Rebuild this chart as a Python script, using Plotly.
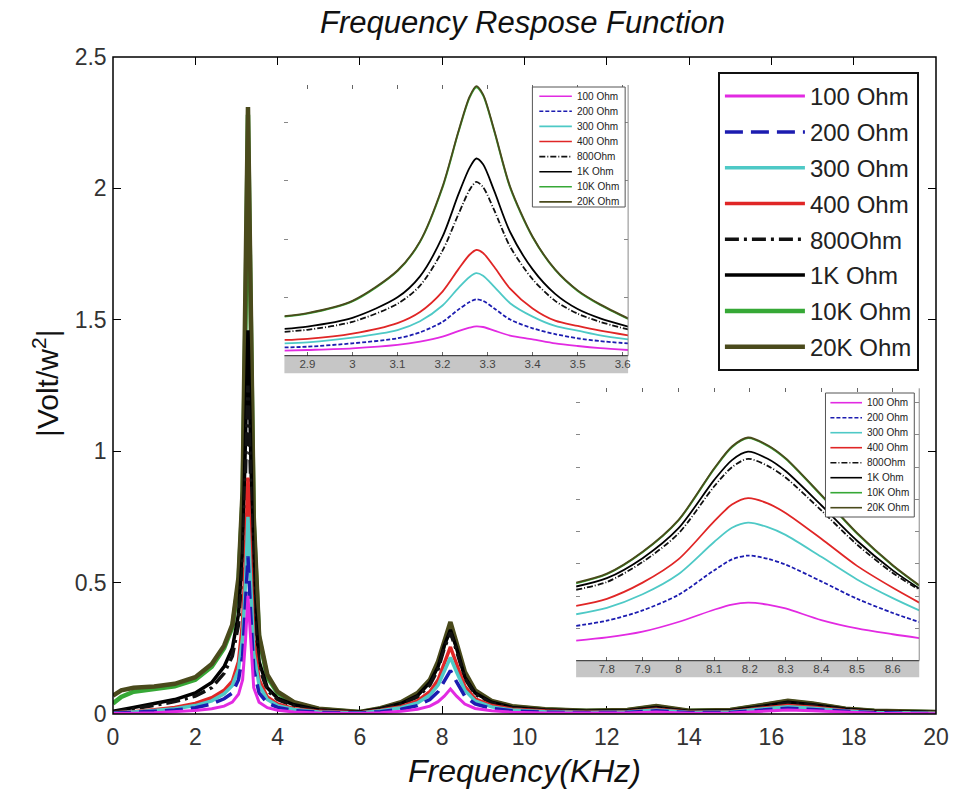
import plotly.graph_objects as go

W, H = 961, 791
ML, MR, MT, MB = 113, 14, 57, 77          # plot area spans x 113..947, y 57..714
PW, PH = W - ML - MR, H - MT - MB
FONT = "Liberation Sans, Arial, Helvetica, sans-serif"

# ---------------- series definitions ----------------
series_names = ["100 Ohm", "200 Ohm", "300 Ohm", "400 Ohm", "800Ohm", "1K Ohm", "10K Ohm", "20K Ohm"]
series_colors = ["#e22ae2", "#1c1cb0", "#4ec9c6", "#e02626", "#111111", "#000000", "#36a836", "#4a4a1c"]
main_dash = ["solid", "18px,8px", "solid", "solid", "14px,5px,3px,5px", "solid", "solid", "solid"]
small_dash = ["solid", "4px,2px", "solid", "solid", "6px,2px,1px,2px", "solid", "solid", "solid"]
main_width = [3, 3.5, 3.5, 3.5, 3.5, 3.5, 4.5, 4.5]
z_rank = [8, 7, 6, 5, 4, 3, 1, 2]

# ---------------- full-band response ----------------
freq_main = [0.0, 0.2, 0.5, 1.0, 1.5, 2.0, 2.4, 2.7, 2.9, 3.05,
             3.15, 3.22, 3.28, 3.34, 3.42, 3.55, 3.75, 4.0, 4.4, 5.0,
             5.5, 6.0, 6.5, 7.0, 7.4, 7.7, 7.9, 8.05, 8.2, 8.35,
             8.55, 8.8, 9.2, 9.7, 10.5, 11.5, 12.5, 13.2, 14.0, 15.0,
             15.8, 16.4, 17.0, 17.8, 18.5, 19.3, 20.0]

main_100 = [0.002, 0.002, 0.003, 0.005, 0.008, 0.013, 0.02, 0.03, 0.045, 0.075,
            0.13, 0.28, 0.45, 0.28, 0.1, 0.045, 0.024, 0.014, 0.008, 0.004,
            0.003, 0.002, 0.005, 0.01, 0.018, 0.03, 0.047, 0.068, 0.095, 0.068,
            0.038, 0.021, 0.012, 0.007, 0.004, 0.003, 0.004, 0.008, 0.003, 0.004,
            0.01, 0.015, 0.012, 0.006, 0.003, 0.002, 0.001]
main_200 = [0.003, 0.004, 0.006, 0.01, 0.015, 0.024, 0.038, 0.058, 0.08, 0.13,
            0.22, 0.4, 0.6, 0.4, 0.17, 0.08, 0.042, 0.025, 0.013, 0.006,
            0.004, 0.003, 0.009, 0.018, 0.032, 0.055, 0.085, 0.125, 0.165, 0.122,
            0.068, 0.038, 0.021, 0.012, 0.007, 0.005, 0.006, 0.012, 0.005, 0.006,
            0.015, 0.022, 0.017, 0.009, 0.005, 0.003, 0.002]
main_300 = [0.004, 0.005, 0.008, 0.013, 0.02, 0.032, 0.05, 0.077, 0.108, 0.17,
            0.29, 0.5, 0.75, 0.52, 0.23, 0.11, 0.055, 0.032, 0.017, 0.008,
            0.006, 0.004, 0.012, 0.024, 0.042, 0.072, 0.11, 0.16, 0.215, 0.16,
            0.09, 0.05, 0.027, 0.015, 0.009, 0.006, 0.008, 0.015, 0.006, 0.008,
            0.019, 0.028, 0.022, 0.011, 0.006, 0.004, 0.003]
main_400 = [0.005, 0.006, 0.009, 0.016, 0.025, 0.04, 0.062, 0.09, 0.125, 0.2,
            0.35, 0.6, 0.9, 0.62, 0.28, 0.13, 0.065, 0.038, 0.02, 0.01,
            0.007, 0.005, 0.014, 0.028, 0.05, 0.085, 0.13, 0.19, 0.255, 0.19,
            0.105, 0.058, 0.032, 0.018, 0.011, 0.007, 0.009, 0.018, 0.007, 0.009,
            0.022, 0.032, 0.026, 0.013, 0.007, 0.005, 0.004]
main_800 = [0.008, 0.012, 0.02, 0.033, 0.047, 0.068, 0.1, 0.155, 0.22, 0.34,
            0.56, 0.92, 1.25, 0.92, 0.4, 0.18, 0.09, 0.055, 0.03, 0.013,
            0.009, 0.006, 0.018, 0.037, 0.065, 0.11, 0.17, 0.25, 0.31, 0.24,
            0.135, 0.075, 0.042, 0.023, 0.014, 0.009, 0.011, 0.023, 0.009, 0.011,
            0.028, 0.042, 0.033, 0.017, 0.009, 0.007, 0.005]
main_1k = [0.01, 0.015, 0.025, 0.04, 0.055, 0.08, 0.12, 0.18, 0.25, 0.38,
           0.62, 1.05, 1.46, 1.05, 0.45, 0.2, 0.1, 0.06, 0.035, 0.015,
           0.01, 0.007, 0.02, 0.04, 0.07, 0.12, 0.18, 0.26, 0.32, 0.25,
           0.14, 0.08, 0.045, 0.025, 0.015, 0.01, 0.012, 0.025, 0.01, 0.012,
           0.03, 0.045, 0.035, 0.018, 0.01, 0.008, 0.006]
main_10k = [0.04, 0.065, 0.085, 0.095, 0.105, 0.13, 0.18, 0.25, 0.33, 0.50,
            0.82, 1.5, 2.28, 1.6, 0.72, 0.29, 0.14, 0.08, 0.042, 0.018,
            0.011, 0.007, 0.02, 0.042, 0.076, 0.125, 0.19, 0.27, 0.34, 0.26,
            0.15, 0.085, 0.047, 0.028, 0.017, 0.011, 0.014, 0.028, 0.011, 0.014,
            0.033, 0.048, 0.038, 0.019, 0.011, 0.009, 0.007]
main_20k = [0.07, 0.09, 0.10, 0.105, 0.115, 0.14, 0.19, 0.26, 0.34, 0.52,
            0.85, 1.55, 2.31, 1.65, 0.75, 0.30, 0.15, 0.085, 0.045, 0.02,
            0.012, 0.008, 0.022, 0.045, 0.08, 0.13, 0.2, 0.28, 0.35, 0.27,
            0.16, 0.09, 0.05, 0.03, 0.018, 0.012, 0.015, 0.03, 0.012, 0.015,
            0.035, 0.05, 0.04, 0.02, 0.012, 0.01, 0.008]
main_values = [main_100, main_200, main_300, main_400, main_800, main_1k, main_10k, main_20k]

# ---------------- zoom on the first mode (~3.28 kHz) ----------------
freq_in1 = [2.849, 2.9, 3.0, 3.1, 3.15, 3.2, 3.235, 3.26, 3.275, 3.29,
            3.315, 3.35, 3.4, 3.45, 3.5, 3.55, 3.612]
in1_100 = [0.043, 0.049, 0.063, 0.092, 0.12, 0.163, 0.21, 0.24, 0.252, 0.246,
           0.215, 0.172, 0.14, 0.105, 0.083, 0.065, 0.049]
in1_200 = [0.071, 0.077, 0.106, 0.149, 0.20, 0.29, 0.395, 0.46, 0.484, 0.47,
           0.405, 0.31, 0.235, 0.185, 0.149, 0.125, 0.105]
in1_300 = [0.105, 0.115, 0.155, 0.22, 0.295, 0.43, 0.58, 0.675, 0.707, 0.685,
           0.59, 0.45, 0.335, 0.255, 0.215, 0.175, 0.14]
in1_400 = [0.135, 0.145, 0.19, 0.28, 0.375, 0.55, 0.74, 0.865, 0.906, 0.88,
           0.76, 0.575, 0.405, 0.30, 0.255, 0.215, 0.175]
in1_800 = [0.205, 0.222, 0.29, 0.445, 0.60, 0.90, 1.21, 1.42, 1.49, 1.445,
           1.245, 0.935, 0.655, 0.47, 0.36, 0.29, 0.225]
in1_1k = [0.23, 0.25, 0.325, 0.50, 0.68, 1.02, 1.38, 1.61, 1.69, 1.64,
          1.41, 1.06, 0.74, 0.53, 0.40, 0.32, 0.25]
in1_10k = [0.335, 0.36, 0.465, 0.725, 0.975, 1.44, 1.91, 2.21, 2.30, 2.23,
           1.92, 1.44, 1.015, 0.735, 0.555, 0.435, 0.315]
in1_20k = [0.34, 0.365, 0.47, 0.73, 0.98, 1.45, 1.92, 2.22, 2.31, 2.24,
           1.93, 1.45, 1.02, 0.74, 0.56, 0.44, 0.32]
in1_values = [in1_100, in1_200, in1_300, in1_400, in1_800, in1_1k, in1_10k, in1_20k]

# ---------------- zoom on the second mode (~8.2 kHz) ----------------
freq_in2 = [7.714, 7.8, 7.9, 8.0, 8.1, 8.15, 8.195, 8.25, 8.3, 8.4, 8.5, 8.6, 8.674]
in2_100 = [0.031, 0.036, 0.045, 0.060, 0.079, 0.087, 0.090, 0.087, 0.081, 0.063, 0.050, 0.041, 0.035]
in2_200 = [0.054, 0.062, 0.078, 0.102, 0.140, 0.157, 0.163, 0.158, 0.149, 0.123, 0.096, 0.074, 0.060]
in2_300 = [0.072, 0.082, 0.103, 0.134, 0.184, 0.206, 0.214, 0.207, 0.195, 0.161, 0.126, 0.097, 0.078]
in2_400 = [0.085, 0.096, 0.121, 0.157, 0.216, 0.242, 0.252, 0.244, 0.229, 0.189, 0.147, 0.113, 0.090]
in2_800 = [0.110, 0.122, 0.153, 0.197, 0.270, 0.300, 0.313, 0.302, 0.284, 0.233, 0.180, 0.136, 0.110]
in2_1k = [0.115, 0.128, 0.159, 0.205, 0.280, 0.311, 0.324, 0.313, 0.294, 0.241, 0.186, 0.140, 0.112]
in2_10k = [0.120, 0.134, 0.168, 0.217, 0.297, 0.331, 0.345, 0.333, 0.313, 0.256, 0.197, 0.147, 0.116]
in2_20k = [0.121, 0.135, 0.169, 0.218, 0.298, 0.332, 0.346, 0.334, 0.314, 0.257, 0.198, 0.148, 0.117]
in2_values = [in2_100, in2_200, in2_300, in2_400, in2_800, in2_1k, in2_10k, in2_20k]

# axis extents
main_xrange, main_yrange = [0, 20], [0, 2.5]
in1_xrange, in1_yrange = [2.849, 3.612], [0, 2.32]
in2_xrange, in2_yrange = [7.714, 8.674], [0, 0.4223]


def px_x(p):
    """page pixel column -> paper x (plot-area relative)"""
    return (p - ML) / PW


def px_y(p):
    """page pixel row -> paper y (plot-area relative)"""
    return (H - MB - p) / PH


fig = go.Figure()

# main plot
for i, name in enumerate(series_names):
    fig.add_trace(go.Scatter(
        x=freq_main, y=main_values[i], mode="lines", name=name,
        legendgroup=name, zorder=z_rank[i],
        line=dict(color=series_colors[i], width=main_width[i], dash=main_dash[i]),
        xaxis="x", yaxis="y"))

# zoomed views
for vals, ax, fx in ((in1_values, "2", freq_in1), (in2_values, "3", freq_in2)):
    for i, name in enumerate(series_names):
        fig.add_trace(go.Scatter(
            x=fx, y=vals[i], mode="lines", name=name, showlegend=False,
            zorder=z_rank[i], line_shape="spline", line_smoothing=0.8,
            line=dict(color=series_colors[i], width=1.8, dash=small_dash[i]),
            xaxis="x" + ax, yaxis="y" + ax))

tickfont_main = dict(family=FONT, size=23, color="#333333")
tickfont_small = dict(family=FONT, size=11.5, color="#444444")

layout = dict(
    width=W, height=H,
    margin=dict(l=ML, r=MR, t=MT, b=MB),
    paper_bgcolor="white", plot_bgcolor="rgba(0,0,0,0)",
    xaxis=dict(domain=[0, 1], range=main_xrange, dtick=2, tick0=0,
               showline=True, linecolor="black", linewidth=1.5, mirror="ticks",
               ticks="inside", ticklen=8, tickwidth=1, tickcolor="black",
               ticklabelstandoff=2,
               showgrid=False, zeroline=False, tickfont=tickfont_main),
    yaxis=dict(domain=[0, 1], range=main_yrange, dtick=0.5, tick0=0,
               showline=True, linecolor="black", linewidth=1.5, mirror="ticks",
               ticks="inside", ticklen=8, tickwidth=1, tickcolor="black",
               showgrid=False, zeroline=False, tickfont=tickfont_main),
    legend=dict(x=px_x(726), y=px_y(72), xanchor="left", yanchor="top",
                bgcolor="white", bordercolor="#111111", borderwidth=2,
                font=dict(family=FONT, size=24, color="#222222"),
                itemwidth=80, traceorder="grouped", tracegroupgap=1.6),
    showlegend=True,
)

# frame around the main axes
shapes = [dict(type="rect", xref="paper", yref="paper", x0=0, x1=1, y0=0, y1=1,
               line=dict(color="black", width=1.5), layer="above")]
annotations = []

insets = [
    dict(ax="2", left=286.7, right=635, top=85, bottom=355.7, band=373.3,
         xr=in1_xrange, yr=in1_yrange, ydt=0.5,
         leg=dict(x0=538, y0=87, x1=632, y1=207, first=96.2, step=15.1,
                  lx0=545, lx1=578, tx=581)),
    dict(ax="3", left=582.3, right=930, top=388.3, bottom=660.7, band=677.3,
         xr=in2_xrange, yr=in2_yrange, ydt=0.05,
         leg=dict(x0=835, y0=393, x1=925, y1=517, first=402.7, step=15.0,
                  lx0=840, lx1=872, tx=875)),
]

for ins in insets:
    a = ins["ax"]
    layout["xaxis" + a] = dict(
        domain=[px_x(ins["left"]), px_x(ins["right"])], range=ins["xr"],
        anchor="y" + a, dtick=0.1, tick0=0, showline=False, mirror="ticks",
        ticks="inside", ticklen=4, tickwidth=1, tickcolor="#666666",
        showgrid=False, zeroline=False, tickfont=tickfont_small)
    layout["yaxis" + a] = dict(
        domain=[px_y(ins["bottom"]), px_y(ins["top"])], range=ins["yr"],
        anchor="x" + a, dtick=ins["ydt"], tick0=0, showline=False, mirror="ticks",
        ticks="inside", ticklen=4, tickwidth=1, tickcolor="#888888",
        showticklabels=False, showgrid=False, zeroline=False)
    # grey tick-label strip under the zoomed axis
    shapes.append(dict(type="rect", xref="paper", yref="paper", layer="below",
                       x0=px_x(ins["left"]), x1=px_x(ins["right"]),
                       y0=px_y(ins["band"]), y1=px_y(ins["bottom"]),
                       fillcolor="#c6c6c6", line=dict(width=0)))
    # bottom and right frame of the zoomed axes
    shapes.append(dict(type="line", xref="paper", yref="paper",
                       x0=px_x(ins["left"]), x1=px_x(ins["right"]),
                       y0=px_y(ins["bottom"]), y1=px_y(ins["bottom"]),
                       line=dict(color="#222222", width=1)))
    shapes.append(dict(type="line", xref="paper", yref="paper",
                       x0=px_x(ins["right"]), x1=px_x(ins["right"]),
                       y0=px_y(ins["bottom"]), y1=px_y(ins["top"]),
                       line=dict(color="#8a8a8a", width=1)))
    # legend box for the zoomed view
    lg = ins["leg"]
    shapes.append(dict(type="rect", xref="paper", yref="paper",
                       x0=px_x(lg["x0"]), x1=px_x(lg["x1"]),
                       y0=px_y(lg["y1"]), y1=px_y(lg["y0"]),
                       fillcolor="white", line=dict(color="#555555", width=1)))
    for i, name in enumerate(series_names):
        yc = lg["first"] + i * lg["step"]
        shapes.append(dict(type="line", xref="paper", yref="paper",
                           x0=px_x(lg["lx0"]), x1=px_x(lg["lx1"]),
                           y0=px_y(yc), y1=px_y(yc),
                           line=dict(color=series_colors[i], width=1.6,
                                     dash=small_dash[i])))
        annotations.append(dict(xref="paper", yref="paper", x=px_x(lg["tx"]),
                                y=px_y(yc), xanchor="left", yanchor="middle",
                                text=name, showarrow=False,
                                font=dict(family=FONT, size=10, color="#222222")))

# titles
annotations.append(dict(xref="paper", yref="paper", x=px_x(528), y=px_y(22),
                        xanchor="center", yanchor="middle", showarrow=False,
                        text="<i>Frequency Respose Function</i>",
                        font=dict(family=FONT, size=31, color="#111111")))
annotations.append(dict(xref="paper", yref="paper", x=px_x(530), y=px_y(771),
                        xanchor="center", yanchor="middle", showarrow=False,
                        text="<i>Frequency(KHz)</i>",
                        font=dict(family=FONT, size=32, color="#111111")))
annotations.append(dict(xref="paper", yref="paper", x=px_x(45), y=px_y(383),
                        xanchor="center", yanchor="middle", showarrow=False,
                        textangle=-90, text="|Volt/w<sup>2</sup>|",
                        font=dict(family=FONT, size=30, color="#111111")))

layout["shapes"] = shapes
layout["annotations"] = annotations
fig.update_layout(**layout)

fig.write_html("out.html")
